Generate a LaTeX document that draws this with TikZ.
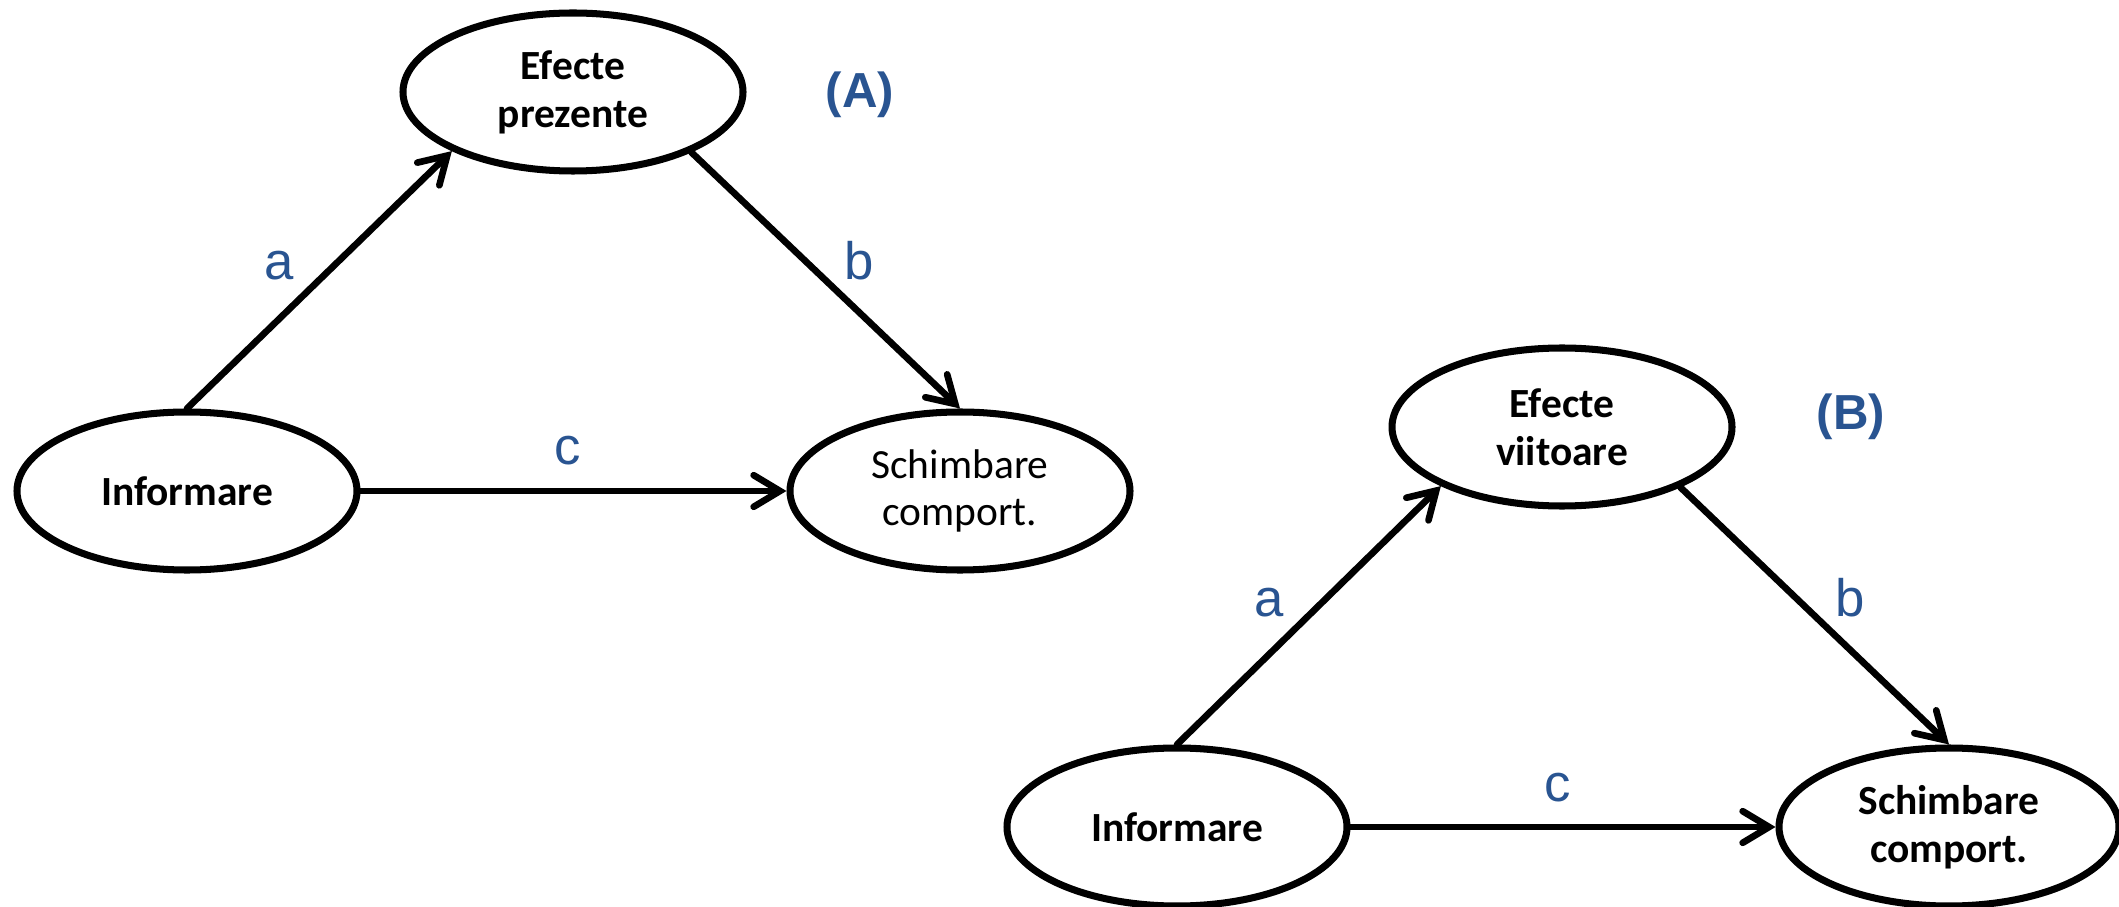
\documentclass[tikz,border=0pt]{standalone}
\usepackage{fontspec}
\setmainfont{Carlito}
\newfontfamily\arialfont{Liberation Sans}
\usetikzlibrary{arrows.meta,shapes.geometric}
\definecolor{labelblue}{RGB}{41,84,145}
\tikzset{
  factor/.style = {ellipse, draw, line width=2pt, minimum width=3.40cm, minimum height=1.58cm, inner sep=0pt, align=center, font=\fontsize{11.8pt}{13.6pt}\selectfont},
  factorbold/.style = {factor, font=\fontsize{11.8pt}{13.6pt}\selectfont\bfseries},
  causal/.style = {black, line width=1.9pt, line cap=round, -{Straight Barb[length=7.5pt,width=9pt,line cap=round]}},
  coef/.style = {labelblue, anchor=base, font=\arialfont\fontsize{15pt}{15pt}\selectfont},
  panel/.style = {labelblue, anchor=base, font=\arialfont\bfseries\fontsize{14pt}{14pt}\selectfont},
}

\begin{document}
\begin{tikzpicture}
      \useasboundingbox (0,0) rectangle (21.19,-9.07);
      % (A)
      \node[factorbold] (effA) at (5.73,-0.92) {Efecte\\prezente};
      \node[factorbold] (infA) at (1.87,-4.91) {Informare};
      \node[factor] (chA) at (9.60,-4.91) {Schimbare\\comport.};
      \node[panel] (panA) at (8.60,-1.08) {(A)};

      \path (infA.north) edge[causal] (effA.206);
      \path (effA.333) edge[causal] (chA.north);
      \path (infA) edge[causal] (chA);

      \node[coef] (aA) at (2.79,-2.80) {a};
      \node[coef] (bA) at (8.59,-2.80) {b};
      \node[coef] (cA) at (5.68,-4.65) {c};

      % (B)
      \node[factorbold] (effB) at (15.62,-4.27) {Efecte\\viitoare};
      \node[factorbold] (infB) at (11.77,-8.27) {Informare};
      \node[factorbold] (chB) at (19.49,-8.27) {Schimbare\\comport.};
      \node[panel] (panB) at (18.51,-4.30) {(B)};

      \path (infB.north) edge[causal] (effB.206);
      \path (effB.333) edge[causal] (chB.north);
      \path (infB) edge[causal] (chB);

      \node[coef] (aB) at (12.69,-6.16) {a};
      \node[coef] (bB) at (18.50,-6.16) {b};
      \node[coef] (cB) at (15.58,-8.01) {c};
\end{tikzpicture}
\end{document}
